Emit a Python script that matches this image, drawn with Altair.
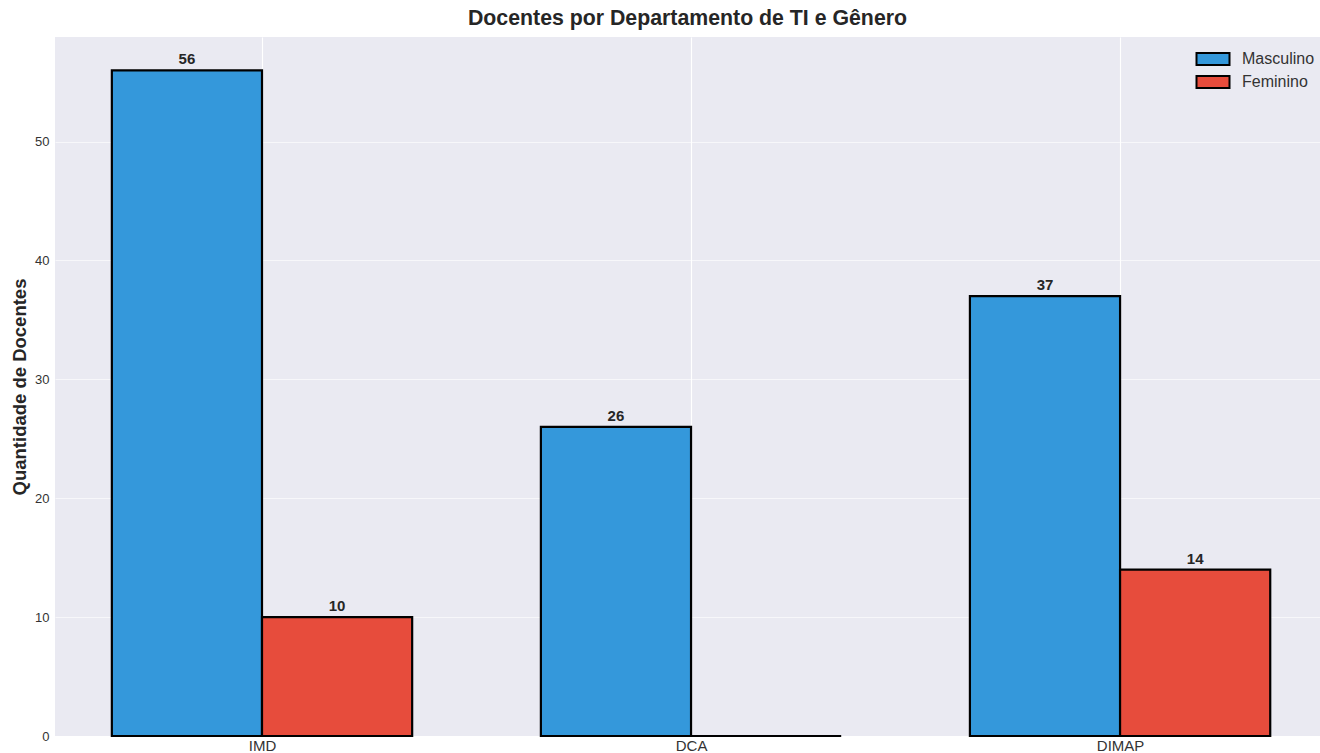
import altair as alt
import pandas as pd

# Faculty headcount by IT department and gender
departamentos = ["IMD", "DCA", "DIMAP"]
masculino = [56, 26, 37]
feminino = [10, 0, 14]
generos = ["Masculino", "Feminino"]
cores = ["#3498db", "#e74c3c"]

LARGURA = 0.35  # width of each bar in category units

rows = []
for i, dep in enumerate(departamentos):
    for g, valores, desloc in (("Masculino", masculino, -LARGURA / 2),
                               ("Feminino", feminino, LARGURA / 2)):
        centro = i + desloc
        rows.append({
            "departamento": dep,
            "idx": i,
            "genero": g,
            "valor": valores[i],
            "x0": centro - LARGURA / 2,
            "x1": centro + LARGURA / 2,
            "xc": centro,
        })
df = pd.DataFrame(rows)

label_expr = "datum.value == 0 ? 'IMD' : datum.value == 1 ? 'DCA' : 'DIMAP'"

x_scale = alt.Scale(domain=[-0.4825, 2.466], nice=False, zero=False)
y_scale = alt.Scale(domain=[0, 58.8], nice=False)

base = alt.Chart(df)

bars = base.mark_bar(stroke="black", strokeWidth=2.2, opacity=1).encode(
    x=alt.X("x0:Q", scale=x_scale,
            axis=alt.Axis(values=[0, 1, 2], labelExpr=label_expr, title=None,
                          grid=True, gridColor="white", gridWidth=1.1,
                          ticks=False, domain=False, labelFontSize=15,
                          labelColor="#333333", labelPadding=2,
                          labelFont="Liberation Sans")),
    x2="x1:Q",
    y=alt.Y("valor:Q", scale=y_scale,
            axis=alt.Axis(values=[0, 10, 20, 30, 40, 50],
                          title="Quantidade de Docentes",
                          titleFontSize=18.5, titleFontWeight="bold",
                          titleColor="#262626", titleFont="Liberation Sans",
                          titlePadding=5,
                          grid=True, gridColor="white", gridOpacity=0.6,
                          gridWidth=1, ticks=False, domain=False,
                          labelFontSize=13, labelColor="#333333",
                          labelPadding=6, labelFont="Liberation Sans")),
    y2=alt.datum(0),
    color=alt.Color("genero:N",
                    scale=alt.Scale(domain=generos, range=cores),
                    legend=alt.Legend(title=None, orient="none",
                                      legendX=1150, legendY=14, padding=0,
                                      symbolType="M-2.75,-1H2.75V1H-2.75Z",
                                      symbolSize=144,
                                      symbolStrokeColor="black",
                                      symbolStrokeWidth=2,
                                      symbolOpacity=1,
                                      labelFontSize=16,
                                      labelColor="#333333",
                                      labelFont="Liberation Sans",
                                      labelOffset=21, rowPadding=3)),
)

labels = base.transform_filter("datum.valor > 0").mark_text(
    dy=-3, baseline="bottom", fontSize=15, fontWeight="bold",
    color="#262626", font="Liberation Sans"
).encode(
    x=alt.X("xc:Q", scale=x_scale),
    y=alt.Y("valor:Q", scale=y_scale),
    text="valor:Q",
)

chart = alt.layer(bars, labels).properties(
    width=1265,
    height=699,
    background="white",
    title=alt.TitleParams("Docentes por Departamento de TI e Gênero",
                          fontSize=21.3, fontWeight="bold", color="#262626",
                          font="Liberation Sans", anchor="middle", offset=8),
    autosize=alt.AutoSizeParams(type="none"),
    padding={"left": 55, "top": 37, "right": 0, "bottom": 17},
).configure_view(
    fill="#eaeaf2", stroke=None
)

chart.save("out.html", embed_options={"renderer": "svg", "actions": False})
